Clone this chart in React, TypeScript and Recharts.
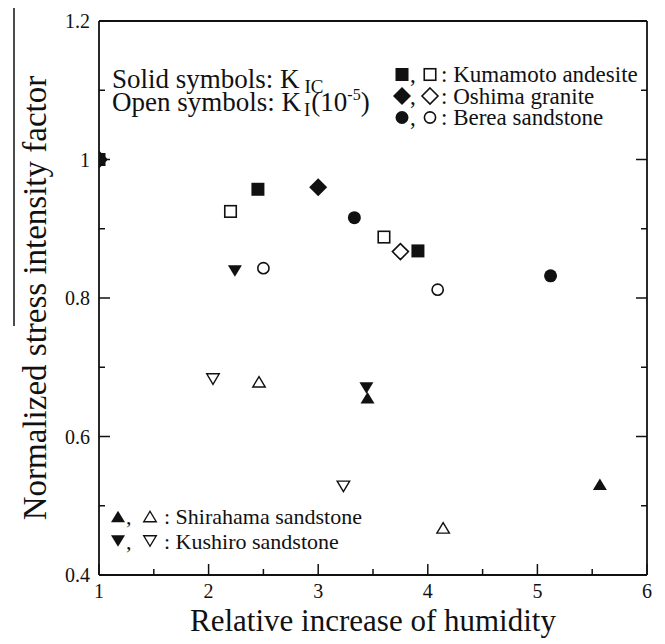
import React from 'react';
import { ScatterChart, Scatter, XAxis, YAxis } from 'recharts';

const xTicks = [1, 1.5, 2, 2.5, 3, 3.5, 4, 4.5, 5, 5.5, 6];
const yTicks = [0.4, 0.5, 0.6, 0.7, 0.8, 0.9, 1, 1.1, 1.2];

// solid = K_IC, open = K_I(10^-5); x = relative increase of humidity
const kumamotoSolid = [{ x: 1, y: 1 }, { x: 2.45, y: 0.957 }, { x: 3.91, y: 0.868 }];
const kumamotoOpen = [{ x: 2.2, y: 0.925 }, { x: 3.6, y: 0.888 }];
const oshimaSolid = [{ x: 1, y: 1 }, { x: 3.0, y: 0.96 }];
const oshimaOpen = [{ x: 3.75, y: 0.867 }];
const bereaSolid = [{ x: 1, y: 1 }, { x: 3.33, y: 0.916 }, { x: 5.12, y: 0.832 }];
const bereaOpen = [{ x: 2.5, y: 0.843 }, { x: 4.09, y: 0.812 }];
const shirahamaSolid = [{ x: 3.45, y: 0.656 }, { x: 5.57, y: 0.531 }];
const shirahamaOpen = [{ x: 2.46, y: 0.679 }, { x: 4.14, y: 0.468 }];
const kushiroSolid = [{ x: 2.24, y: 0.839 }, { x: 3.44, y: 0.67 }];
const kushiroOpen = [{ x: 2.04, y: 0.683 }, { x: 3.23, y: 0.528 }];

const topLegend = [
  { kind: 'square', label: ': Kumamoto andesite' },
  { kind: 'diamond', label: ': Oshima granite' },
  { kind: 'circle', label: ': Berea sandstone' },
];
const bottomLegend = [
  { kind: 'up', label: ': Shirahama sandstone' },
  { kind: 'down', label: ': Kushiro sandstone' },
];

const INK = '#111';
const FONT = '"Liberation Serif", "Times New Roman", serif';

type Kind = 'square' | 'diamond' | 'circle' | 'up' | 'down';

function Marker({ kind, filled, cx, cy }: { kind: Kind; filled: boolean; cx: number; cy: number }) {
  const fill = filled ? INK : '#fff';
  const stroke = filled ? 'none' : INK;
  const sw = 1.6;
  if (kind === 'square') {
    const s = filled ? 13 : 11.5;
    return <rect x={cx - s / 2} y={cy - s / 2} width={s} height={s} fill={fill} stroke={stroke} strokeWidth={sw} />;
  }
  if (kind === 'diamond') {
    const r = filled ? 9 : 8;
    return (
      <polygon
        points={`${cx},${cy - r} ${cx + r},${cy} ${cx},${cy + r} ${cx - r},${cy}`}
        fill={fill}
        stroke={stroke}
        strokeWidth={sw}
      />
    );
  }
  if (kind === 'circle') {
    return <circle cx={cx} cy={cy} r={filled ? 6.5 : 5.6} fill={fill} stroke={stroke} strokeWidth={sw} />;
  }
  const w = filled ? 14 : 12.5;
  const h = filled ? 11.5 : 10.5;
  const pts =
    kind === 'up'
      ? `${cx - w / 2},${cy + h / 2} ${cx + w / 2},${cy + h / 2} ${cx},${cy - h / 2}`
      : `${cx - w / 2},${cy - h / 2} ${cx + w / 2},${cy - h / 2} ${cx},${cy + h / 2}`;
  return <polygon points={pts} fill={fill} stroke={stroke} strokeWidth={1.4} />;
}

const series: { name: string; data: { x: number; y: number }[]; kind: Kind; filled: boolean }[] = [
  { name: 'Kumamoto KI', data: kumamotoOpen, kind: 'square', filled: false },
  { name: 'Oshima KI', data: oshimaOpen, kind: 'diamond', filled: false },
  { name: 'Berea KI', data: bereaOpen, kind: 'circle', filled: false },
  { name: 'Shirahama KI', data: shirahamaOpen, kind: 'up', filled: false },
  { name: 'Kushiro KI', data: kushiroOpen, kind: 'down', filled: false },
  { name: 'Kumamoto KIC', data: kumamotoSolid, kind: 'square', filled: true },
  { name: 'Oshima KIC', data: oshimaSolid, kind: 'diamond', filled: true },
  { name: 'Berea KIC', data: bereaSolid, kind: 'circle', filled: true },
  { name: 'Shirahama KIC', data: shirahamaSolid, kind: 'up', filled: true },
  { name: 'Kushiro KIC', data: kushiroSolid, kind: 'down', filled: true },
];

const isMajorX = (v: number) => Number.isInteger(v);
const isMajorY = (v: number) => Math.round(v * 10) % 2 === 0;

const tickText = { fontSize: 20, fontFamily: FONT, fill: INK };

const BottomTick = (p: any) => {
  const v = p.payload.value;
  const major = isMajorX(v);
  return (
    <g>
      <line x1={p.x} x2={p.x} y1={p.y} y2={p.y - (major ? 11 : 6)} stroke={INK} strokeWidth={1.5} />
      {major && (
        <text x={p.x} y={p.y + 23} textAnchor="middle" {...tickText}>
          {v}
        </text>
      )}
    </g>
  );
};
const TopTick = (p: any) => {
  const major = isMajorX(p.payload.value);
  return <line x1={p.x} x2={p.x} y1={p.y} y2={p.y + (major ? 11 : 6)} stroke={INK} strokeWidth={1.5} />;
};
const LeftTick = (p: any) => {
  const v = p.payload.value;
  const major = isMajorY(v);
  return (
    <g>
      <line x1={p.x} x2={p.x + (major ? 11 : 6)} y1={p.y} y2={p.y} stroke={INK} strokeWidth={1.5} />
      {major && (
        <text x={p.x - 9} y={p.y + 7} textAnchor="end" {...tickText}>
          {String(Math.round(v * 10) / 10)}
        </text>
      )}
    </g>
  );
};
const RightTick = (p: any) => {
  const major = isMajorY(p.payload.value);
  return <line x1={p.x} x2={p.x - (major ? 11 : 6)} y1={p.y} y2={p.y} stroke={INK} strokeWidth={1.5} />;
};

const axisLine = { stroke: INK, strokeWidth: 1.8 };

export default function App() {
  return (
    <div style={{ position: 'absolute', left: 0, top: 0, width: 665, height: 644, background: '#fff' }}>
      <ScatterChart width={665} height={644} margin={{ top: 20, right: 17, bottom: 68, left: 98 }}>
        <XAxis
          xAxisId="b"
          type="number"
          dataKey="x"
          domain={[1, 6]}
          ticks={xTicks}
          interval={0}
          allowDataOverflow
          height={1}
          tickSize={0}
          tickMargin={0}
          tickLine={false}
          tick={BottomTick}
          axisLine={axisLine}
        />
        <XAxis
          xAxisId="t"
          orientation="top"
          type="number"
          domain={[1, 6]}
          ticks={xTicks}
          interval={0}
          allowDataOverflow
          height={1}
          tickSize={0}
          tickMargin={0}
          tickLine={false}
          tick={TopTick}
          axisLine={axisLine}
        />
        <YAxis
          yAxisId="l"
          type="number"
          dataKey="y"
          domain={[0.4, 1.2]}
          ticks={yTicks}
          interval={0}
          allowDataOverflow
          width={1}
          tickSize={0}
          tickMargin={0}
          tickLine={false}
          tick={LeftTick}
          axisLine={axisLine}
        />
        <YAxis
          yAxisId="r"
          orientation="right"
          type="number"
          domain={[0.4, 1.2]}
          ticks={yTicks}
          interval={0}
          allowDataOverflow
          width={1}
          tickSize={0}
          tickMargin={0}
          tickLine={false}
          tick={RightTick}
          axisLine={axisLine}
        />
        {series.map(s => (
          <Scatter
            key={s.name}
            name={s.name}
            data={s.data}
            xAxisId="b"
            yAxisId="l"
            isAnimationActive={false}
            shape={(p: any) => <Marker kind={s.kind} filled={s.filled} cx={p.cx} cy={p.cy} />}
          />
        ))}
      </ScatterChart>
      <svg
        width={665}
        height={644}
        style={{ position: 'absolute', left: 0, top: 0, pointerEvents: 'none' }}
        fontFamily={FONT}
        fill={INK}
      >
        <line x1={14} x2={14} y1={8} y2={326} stroke={INK} strokeWidth={1.5} />
        <text x={46} y={298} fontSize={33} textAnchor="middle" transform="rotate(-90 46 298)">
          Normalized stress intensity factor
        </text>
        <text x={373} y={631} fontSize={31} textAnchor="middle">
          Relative increase of humidity
        </text>

        <text x={112} y={88} fontSize={27}>
          Solid symbols: K
          <tspan dx={5} dy={5} fontSize={19}>IC</tspan>
        </text>
        <text x={112} y={111} fontSize={27}>
          Open symbols: K
          <tspan dx={3} dy={5} fontSize={19}>I</tspan>
          <tspan dx={1} dy={-5}>(10</tspan>
          <tspan dy={-11} fontSize={16}>-5</tspan>
          <tspan dy={11}>)</tspan>
        </text>

        {topLegend.map((r, i) => {
          const base = 82 + i * 21.5;
          return (
            <g key={r.label}>
              <Marker kind={r.kind as Kind} filled cx={402} cy={base - 7.5} />
              <Marker kind={r.kind as Kind} filled={false} cx={430} cy={base - 7.5} />
              <text x={410} y={base} fontSize={23}>
                ,<tspan x={441}>{r.label}</tspan>
              </text>
            </g>
          );
        })}

        {bottomLegend.map((r, i) => {
          const base = 524 + i * 24.5;
          return (
            <g key={r.label}>
              <Marker kind={r.kind as Kind} filled cx={118} cy={base - 7.5} />
              <Marker kind={r.kind as Kind} filled={false} cx={150} cy={base - 7.5} />
              <text x={126} y={base} fontSize={22}>
                ,<tspan x={164}>{r.label}</tspan>
              </text>
            </g>
          );
        })}
      </svg>
    </div>
  );
}
